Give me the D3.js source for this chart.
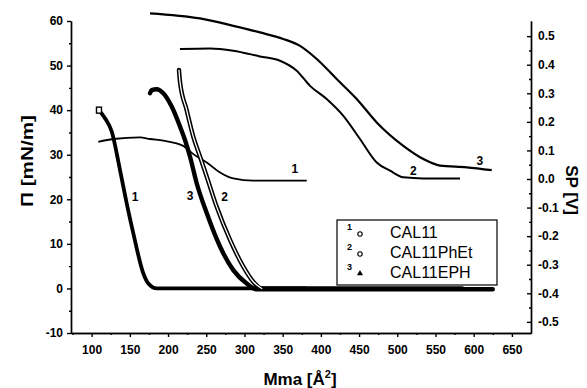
<!DOCTYPE html>
<meta charset="utf-8">
<style>
body { margin: 0; background: #fff; }
svg text { font-family: "Liberation Sans", Arial, sans-serif; fill: #000; }
.axis path, .axis line { stroke: #000; stroke-width: 1.4; }
.axis text { font-size: 12px; font-weight: bold; }
.iso { fill: none; stroke: #000; stroke-linejoin: round; stroke-linecap: round; }
.sp { fill: none; stroke: #000; stroke-width: 2; stroke-linejoin: round; }
</style>
<body>
<script src="https://d3js.org/d3.v7.min.js"></script>
<script>

// isotherms: mean molecular area [A^2] vs surface pressure [mN/m]
var cal11Area = [109.6, 117.5, 126.3, 137.1, 145.9, 154.5, 167.6, 174.2, 185.2, 230, 300, 380];
var cal11Pi   = [40.0, 38.2, 35.2, 26.6, 19.1, 12.4, 3.4, 1.1, 0.0, 0, 0, 0];
var phetArea  = [214.3, 215.6, 224.4, 233.1, 241.8, 250.6, 263.7, 281.1, 298.5, 311.6, 322.6, 400, 500, 585];
var phetPi    = [49.0, 46.4, 40.0, 34.0, 29.6, 25.1, 18.3, 10.9, 4.9, 1.5, 0.0, 0, 0, 0];
var ephArea   = [176.4, 178.6, 185.2, 193.8, 204.8, 215.7, 222.2, 228.7, 237.5, 250.6, 268.0, 285.4, 302.9, 316.0, 400, 500, 625];
var ephPi     = [43.8, 44.5, 44.7, 43.8, 40.8, 36.3, 33.3, 29.6, 23.6, 16.9, 9.4, 4.1, 1.1, -0.2, -0.2, -0.2, -0.2];

// surface potential [V]
var cal11SpArea = [108.7, 128.4, 163.3, 176.4, 193.8, 220.0, 233.1, 250.6, 268.0, 285.4, 311.6, 346.5, 381.5];
var cal11Sp     = [0.130, 0.140, 0.146, 0.140, 0.134, 0.116, 0.087, 0.058, 0.023, 0.002, -0.006, -0.006, -0.006];
var phetSpArea  = [215.6, 254.9, 285.4, 320.3, 346.5, 368.4, 385.8, 407.6, 429.4, 451.2, 473.1, 490.5, 507.9, 534.1, 582.1];
var phetSp      = [0.455, 0.457, 0.449, 0.429, 0.414, 0.379, 0.326, 0.280, 0.221, 0.140, 0.058, 0.029, 0.006, 0.002, 0.002];
var ephSpArea   = [176.4, 241.8, 285.4, 320.3, 350.8, 372.7, 394.6, 420.7, 446.9, 473.1, 507.9, 534.1, 555.9, 590.9, 623.6];
var ephSp       = [0.580, 0.562, 0.536, 0.513, 0.490, 0.466, 0.420, 0.350, 0.280, 0.198, 0.116, 0.070, 0.047, 0.041, 0.031];

// ticks
var xTicks  = [100, 150, 200, 250, 300, 350, 400, 450, 500, 550, 600, 650];
var xMinor  = [75, 125, 175, 225, 275, 325, 375, 425, 475, 525, 575, 625];
var piTicks = [-10, 0, 10, 20, 30, 40, 50, 60];
var piMinor = [-5, 5, 15, 25, 35, 45, 55];
var spTicks = [-0.5, -0.4, -0.3, -0.2, -0.1, 0, 0.1, 0.2, 0.3, 0.4, 0.5];
var spMinor = [-0.45, -0.35, -0.25, -0.15, -0.05, 0.05, 0.15, 0.25, 0.35, 0.45];

// curve numbers (area, value)
var isoLabels = [["1", 157, 20.5], ["3", 229, 20.7], ["2", 274, 20.5]];
var spLabels  = [["1", 366, 0.035], ["2", 521, 0.028], ["3", 608, 0.063]];
var legendNames = ["CAL11", "CAL11PhEt", "CAL11EPH"];

var width = 587, height = 388;

var x = d3.scaleLinear().domain([73, 675]).range([71, 531]);
var yPi = d3.scaleLinear().domain([-10, 60]).range([333, 21]);
var ySp = d3.scaleLinear().domain([-0.539, 0.553]).range([333, 21]);

var svg = d3.select("body").append("svg")
    .attr("width", width)
    .attr("height", height);

// axes
svg.append("g").attr("class", "axis")
    .attr("transform", "translate(0,333)")
    .call(d3.axisBottom(x).tickValues(xTicks).tickSize(4).tickSizeOuter(0).tickPadding(8));
svg.append("g").attr("class", "axis")
    .attr("transform", "translate(0,333)")
    .call(d3.axisBottom(x).tickValues(xMinor).tickSize(2).tickSizeOuter(0).tickFormat(""));

svg.append("g").attr("class", "axis")
    .attr("transform", "translate(71,0)")
    .call(d3.axisLeft(yPi).tickValues(piTicks).tickSize(4).tickSizeOuter(0).tickPadding(4)
      .tickFormat(function(d) { return String(d); }));
svg.append("g").attr("class", "axis")
    .attr("transform", "translate(71,0)")
    .call(d3.axisLeft(yPi).tickValues(piMinor).tickSize(2).tickSizeOuter(0).tickFormat(""));

svg.append("g").attr("class", "axis")
    .attr("transform", "translate(531,0)")
    .call(d3.axisRight(ySp).tickValues(spTicks).tickSize(-4).tickSizeOuter(0).tickPadding(7)
      .tickFormat(function(d) { return d.toFixed(1); }));
svg.append("g").attr("class", "axis")
    .attr("transform", "translate(531,0)")
    .call(d3.axisRight(ySp).tickValues(spMinor).tickSize(-2).tickSizeOuter(0).tickFormat(""));

// axis titles
svg.append("text")
    .attr("x", 300).attr("y", 385)
    .attr("text-anchor", "middle")
    .style("font-size", "17px").style("font-weight", "bold")
    .text("Mma [Å")
  .append("tspan").attr("dy", -7).style("font-size", "11px").text("2")
  .select(function() { return this.parentNode; })
  .append("tspan").attr("dy", 7).text("]");

svg.append("text")
    .attr("transform", "rotate(-90)")
    .attr("x", -161).attr("y", 33)
    .attr("text-anchor", "middle")
    .attr("textLength", 92).attr("lengthAdjust", "spacingAndGlyphs")
    .style("font-size", "17px").style("font-weight", "bold")
    .text("Π [mN/m]");

svg.append("text")
    .attr("transform", "translate(566,190) rotate(90)")
    .attr("text-anchor", "middle")
    .style("font-size", "17px").style("font-weight", "bold")
    .text("SP [V]");

// line generators
function lineFor(xs, ys, yScale) {
  var pts = xs.map(function(d, i) { return [d, ys[i]]; });
  return d3.line()
      .x(function(d) { return x(d[0]); })
      .y(function(d) { return yScale(d[1]); })
      .curve(d3.curveMonotoneX)(pts);
}

// surface potential lines
svg.append("path").attr("class", "sp").attr("d", lineFor(cal11SpArea, cal11Sp, ySp)).style("stroke-width", 1.8);
svg.append("path").attr("class", "sp").attr("d", lineFor(phetSpArea, phetSp, ySp));
svg.append("path").attr("class", "sp").attr("d", lineFor(ephSpArea, ephSp, ySp)).style("stroke-width", 2.2);

// isotherms
svg.append("path").attr("class", "iso").attr("d", lineFor(cal11Area, cal11Pi, yPi)).style("stroke-width", 3.8);
svg.append("path").attr("class", "iso").attr("d", lineFor(ephArea, ephPi, yPi)).style("stroke-width", 4.4);
// hollow circles drawn densely -> double line look
svg.append("path").attr("class", "iso").attr("d", lineFor(phetArea, phetPi, yPi)).style("stroke-width", 4.4);
svg.append("path").attr("class", "iso").attr("d", lineFor(phetArea.slice(0, 11), phetPi.slice(0, 11), yPi))
    .style("stroke", "#fff").style("stroke-width", 1.3);

// first point of CAL11 (open square marker)
svg.append("rect")
    .attr("x", x(cal11Area[0]) - 2.5).attr("y", yPi(cal11Pi[0]) - 3)
    .attr("width", 5).attr("height", 6)
    .attr("fill", "#fff").attr("stroke", "#000").attr("stroke-width", 1.4);

// curve numbers
svg.selectAll(".isolab").data(isoLabels).enter().append("text")
    .attr("class", "isolab")
    .attr("x", function(d) { return x(d[1]); })
    .attr("y", function(d) { return yPi(d[2]); })
    .attr("text-anchor", "middle").attr("dominant-baseline", "central")
    .style("font-size", "12px").style("font-weight", "bold")
    .text(function(d) { return d[0]; });
svg.selectAll(".splab").data(spLabels).enter().append("text")
    .attr("class", "splab")
    .attr("x", function(d) { return x(d[1]); })
    .attr("y", function(d) { return ySp(d[2]); })
    .attr("text-anchor", "middle").attr("dominant-baseline", "central")
    .style("font-size", "12px").style("font-weight", "bold")
    .text(function(d) { return d[0]; });

// legend
var lg = svg.append("g").attr("transform", "translate(337,220)");
lg.append("rect").attr("width", 160).attr("height", 65)
    .attr("fill", "#fff").attr("stroke", "#000").attr("stroke-width", 1.2);
legendNames.forEach(function(name, i) {
  var ry = 12 + i * 20;
  lg.append("text").attr("x", 10).attr("y", ry - 2)
      .style("font-size", "9px").style("font-weight", "bold").text(i + 1);
  if (i < 2) {
    lg.append("circle").attr("cx", 23).attr("cy", ry + 2).attr("r", 2.2)
        .attr("fill", "#fff").attr("stroke", "#000").attr("stroke-width", 1.1);
  } else {
    lg.append("path").attr("transform", "translate(23," + (ry + 1.5) + ")")
        .attr("d", d3.symbol().type(d3.symbolTriangle).size(16));
  }
  lg.append("text").attr("x", 53).attr("y", ry)
      .attr("dominant-baseline", "central")
      .style("font-size", "16px")
      .text(name);
});

</script>
</body>
